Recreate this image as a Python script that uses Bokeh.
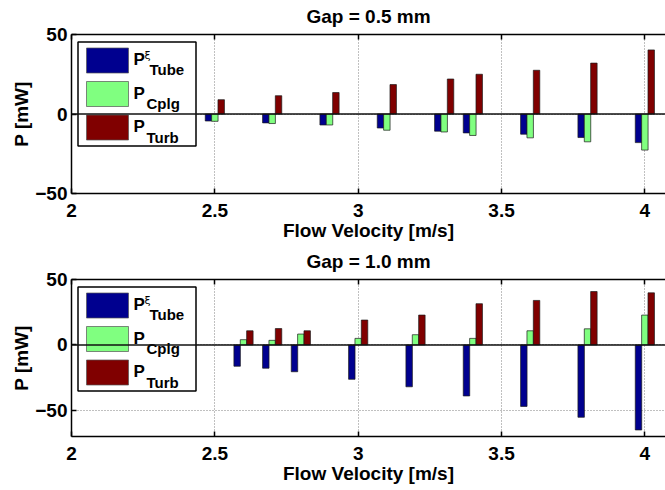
from bokeh.plotting import figure
from bokeh.models import Range1d, LinearAxis, FixedTicker, Span
from bokeh.layouts import column
from bokeh.embed import file_html
from bokeh.resources import INLINE
from bokeh.core.properties import value

# ---------------- data ----------------
velocity_05 = [2.5, 2.7, 2.9, 3.1, 3.3, 3.4, 3.6, 3.8, 4.0]
p_tube_05 = [-4.4, -5.6, -6.9, -8.8, -10.8, -11.9, -12.7, -14.8, -18.0]
p_cplg_05 = [-4.6, -6.0, -6.9, -10.2, -11.3, -13.5, -15.0, -17.5, -22.7]
p_turb_05 = [9.0, 11.5, 13.5, 18.5, 22.0, 25.0, 27.5, 32.0, 40.3]

velocity_10 = [2.6, 2.7, 2.8, 3.0, 3.2, 3.4, 3.6, 3.8, 4.0]
p_tube_10 = [-16.3, -17.8, -20.5, -26.3, -32.0, -39.0, -47.0, -55.3, -65.0]
p_cplg_10 = [4.0, 3.5, 8.3, 5.0, 7.8, 5.0, 10.8, 12.3, 22.8]
p_turb_10 = [10.8, 12.5, 10.8, 19.0, 22.8, 31.5, 34.0, 40.8, 39.8]

titles = ["Gap = 0.5 mm", "Gap = 1.0 mm"]
series_subscripts = ["Tube", "Cplg", "Turb"]
series_colors = ["#00008F", "#80FF80", "#800000"]
x_ticks = [2, 2.5, 3, 3.5, 4]
x_tick_labels = ["2", "2.5", "3", "3.5", "4"]
y_ticks = [-50, 0, 50]
x_label = "Flow Velocity [m/s]"
y_label = "P [mW]"

# ---------------- style / layout ----------------
FONT = "Liberation Sans"
FRAME_W = 594
X_RANGE = (2.0, 4.072)
BAR_W = 0.0225
BAR_STEP = 0.0222
TITLE_GAP = 8


def make_panel(title, vel, series, y_rng, frame_h, border_top, border_bottom):
    p = figure(frame_width=FRAME_W, frame_height=frame_h,
               x_range=Range1d(*X_RANGE), y_range=Range1d(*y_rng),
               output_backend="svg", toolbar_location=None,
               min_border_left=71, min_border_right=0,
               min_border_top=border_top, min_border_bottom=border_bottom,
               title=title)
    p.outline_line_color = None
    p.background_fill_color = "white"
    p.border_fill_color = "white"

    p.title.align = "center"
    p.title.text_font = FONT
    p.title.text_font_size = "19px"
    p.title.text_font_style = "bold"
    p.title.text_color = "black"
    p.title.standoff = 0

    xax = p.xaxis[0]
    yax = p.yaxis[0]
    xax.ticker = FixedTicker(ticks=x_ticks)
    xax.major_label_overrides = {t: l for t, l in zip(x_ticks, x_tick_labels)}
    yax.ticker = FixedTicker(ticks=y_ticks)
    for ax in (xax, yax):
        ax.minor_tick_line_color = None
        ax.major_tick_in = 5
        ax.major_tick_out = 0
        ax.axis_line_width = 1.5
        ax.axis_line_color = "black"
        ax.major_tick_line_width = 1.5
        ax.major_label_text_font = FONT
        ax.major_label_text_font_size = "19px"
        ax.major_label_text_font_style = "bold"
        ax.major_label_text_color = "black"
        ax.axis_label_text_font = FONT
        ax.axis_label_text_font_size = "19px"
        ax.axis_label_text_font_style = "bold"
        ax.axis_label_text_color = "black"
    xax.axis_label = x_label
    yax.axis_label = y_label
    xax.major_label_standoff = 10
    xax.axis_label_standoff = 0
    yax.major_label_standoff = 4
    yax.axis_label_standoff = 0

    # top edge of the box with inward ticks
    top = LinearAxis(ticker=FixedTicker(ticks=x_ticks),
                     major_label_text_font_size="1px",
                     major_label_text_color=None,
                     major_label_standoff=0,
                     major_tick_in=5, major_tick_out=0,
                     minor_tick_line_color=None,
                     axis_line_width=1.5, major_tick_line_width=1.5)
    p.add_layout(top, "above")
    # invisible spacer axis that lifts the title off the frame
    spacer = LinearAxis(ticker=FixedTicker(ticks=x_ticks),
                        major_label_text_font_size="1px",
                        major_label_text_color=None,
                        major_label_standoff=0,
                        major_tick_in=0, major_tick_out=TITLE_GAP,
                        major_tick_line_color=None,
                        minor_tick_line_color=None,
                        axis_line_color=None)
    p.add_layout(spacer, "above")

    for g in (p.xgrid[0], p.ygrid[0]):
        g.grid_line_color = "#808080"
        g.grid_line_dash = "1 2"
        g.grid_line_width = 1

    # bars
    for i, (vals, color) in enumerate(zip(series, series_colors)):
        xs = [v + (i - 1) * BAR_STEP for v in vel]
        p.vbar(x=xs, top=vals, bottom=0, width=BAR_W,
               fill_color=color, line_color="#1a1a1a", line_width=0.7)

    p.add_layout(Span(location=0, dimension="width",
                      line_color="#111111", line_width=1.5))

    # legend built from pixel offsets inside the frame
    def dx(px):
        return X_RANGE[0] + px / FRAME_W * (X_RANGE[1] - X_RANGE[0])

    def dy(py):
        return y_rng[1] - py / frame_h * (y_rng[1] - y_rng[0])

    p.quad(left=[dx(6.5)], right=[dx(124.5)], top=[dy(7.5)], bottom=[dy(111.5)],
           fill_color="white", line_color="black", line_width=1.5)
    sw_tops = [13.5, 47, 80.5]
    for st, color, sub in zip(sw_tops, series_colors, series_subscripts):
        p.quad(left=[dx(15)], right=[dx(57)], top=[dy(st)], bottom=[dy(st + 25)],
               fill_color=color, line_color="#555555", line_width=0.7)
        p.text(x=[dx(62)], y=[dy(st + 11.5)], text=["P"],
               text_font=value(FONT), text_font_size="17px",
               text_font_style="bold", text_color="black",
               text_baseline="alphabetic", text_align="left")
        if sub == "Tube":
            p.text(x=[dx(73)], y=[dy(st + 7)], text=["ξ"],
                   text_font=value("DejaVu Sans"), text_font_size="11px",
                   text_color="black", text_baseline="alphabetic", text_align="left")
            p.text(x=[dx(78)], y=[dy(st + 21.5)], text=[sub],
                   text_font=value(FONT), text_font_size="15px",
                   text_font_style="bold", text_color="black",
                   text_baseline="alphabetic", text_align="left")
        else:
            p.text(x=[dx(75)], y=[dy(st + 22)], text=[sub],
                   text_font=value(FONT), text_font_size="15px",
                   text_font_style="bold", text_color="black",
                   text_baseline="alphabetic", text_align="left")
    return p


p1 = make_panel(titles[0], velocity_05, [p_tube_05, p_cplg_05, p_turb_05],
                (-50, 50), 159, 34, 55)
p2 = make_panel(titles[1], velocity_10, [p_tube_10, p_cplg_10, p_turb_10],
                (-70, 50), 157, 31, 54)

layout = column(p1, p2, spacing=0)
open("out.html", "w").write(file_html(layout, INLINE))
